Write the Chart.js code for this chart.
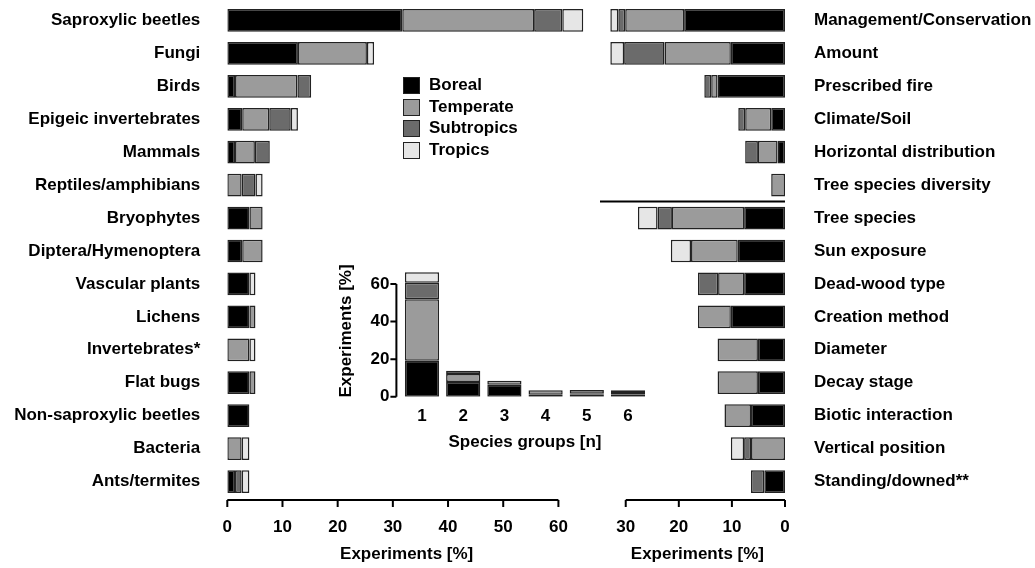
<!DOCTYPE html>
<html>
<head>
<meta charset="utf-8">
<script src="https://cdn.jsdelivr.net/npm/chart.js@4/dist/chart.umd.min.js"></script>
<style>
  html, body { margin:0; padding:0; background:#ffffff; }
  #wrap { position:relative; width:1035px; height:568px; overflow:hidden; background:#fff; }
  canvas { position:absolute; }
  .leg { position:absolute; left:403px; font:bold 17px "Liberation Sans", Arial, sans-serif; color:#000; height:18px; line-height:18px; }
  .leg span.box { position:absolute; left:0; top:0; width:15px; height:15px; border:1.5px solid #222; }
  .leg span.txt { position:absolute; left:26px; top:-1px; white-space:nowrap; }
</style>
</head>
<body>
<div id="wrap">
  <canvas id="left" width="595" height="568" style="left:0;top:0;"></canvas>
  <canvas id="right" width="440" height="568" style="left:595px;top:0;"></canvas>
  <canvas id="inset" width="330" height="200" style="left:330px;top:255px;"></canvas>
  <div id="legend"></div>
</div>
<script>
// ---------- Data ----------
const regions = ["Boreal", "Temperate", "Subtropics", "Tropics"];
const regionColors = ["#000000", "#9b9b9b", "#6b6b6b", "#e6e6e6"];

const leftCategories = ["Saproxylic beetles", "Fungi", "Birds", "Epigeic invertebrates", "Mammals",
  "Reptiles/amphibians", "Bryophytes", "Diptera/Hymenoptera", "Vascular plants", "Lichens",
  "Invertebrates*", "Flat bugs", "Non-saproxylic beetles", "Bacteria", "Ants/termites"];
const leftBoreal     = [31.7, 12.8, 1.4, 2.7, 1.4, 0,   4.0, 2.7, 4.0, 4.0, 0,   4.0, 4.0, 0,   1.4];
const leftTemperate  = [23.9, 12.5, 11.3, 4.9, 3.6, 2.6, 2.4, 3.7, 0,   1.1, 4.0, 1.1, 0,   2.6, 0];
const leftSubtropics = [5.1,  0,    2.5, 3.9, 2.7, 2.5, 0,   0,   0,   0,   0,   0,   0,   0,   1.2];
const leftTropics    = [3.8,  1.3,  0,   1.3, 0,   1.3, 0,   0,   1.1, 0,   1.1, 0,   0,   1.4, 1.4];

const rightCategories = ["Management/Conservation", "Amount", "Prescribed fire", "Climate/Soil",
  "Horizontal distribution", "Tree species diversity", "Tree species", "Sun exposure",
  "Dead-wood type", "Creation method", "Diameter", "Decay stage", "Biotic interaction",
  "Vertical position", "Standing/downed**"];
const rightBoreal     = [19.0, 10.2, 12.7, 2.6, 1.4, 0,   7.7,  8.9, 7.7, 10.2, 5.1, 5.1, 6.4, 0,   3.9];
const rightTemperate  = [11.1, 12.5, 1.2,  4.9, 3.7, 2.6, 13.6, 8.8, 4.9, 6.2,  7.6, 7.6, 5.0, 6.4, 0];
const rightSubtropics = [1.3,  7.6,  1.3,  1.3, 2.4, 0,   2.7,  0,   3.8, 0,    0,   0,   0,   1.3, 2.5];
const rightTropics    = [1.5,  2.6,  0,    0,   0,   0,   3.7,  3.8, 0,   0,    0,   0,   0,   2.5, 0];

const insetGroups     = ["1", "2", "3", "4", "5", "6"];
const insetBoreal     = [19.2, 7.8, 6.4, 1.0, 1.0, 1.0];
const insetTemperate  = [32.7, 4.3, 2.1, 2.5, 0.6, 1.5];
const insetSubtropics = [8.8,  1.7, 0,   0,   2.0, 1.0];
const insetTropics    = [5.5,  0,   0,   0,   0,   0];

const leftTicks  = [0, 10, 20, 30, 40, 50, 60];
const rightTicks = [0, 10, 20, 30];
const insetTicks = [0, 20, 40, 60];
const axisTitle = "Experiments [%]";
const insetXTitle = "Species groups [n]";

// ---------- Helpers ----------
const FONT = { family: '"Liberation Sans", Arial, sans-serif', size: 17, weight: 'bold' };
const nz = arr => arr.map(v => (v === 0 ? null : v));
function makeDatasets(series, pct) {
  return series.map((vals, i) => ({
    label: regions[i],
    data: nz(vals),
    backgroundColor: regionColors[i],
    borderColor: "#222222",
    borderWidth: 1.5,
    borderSkipped: false,
    categoryPercentage: 1.0,
    barPercentage: pct
  }));
}
function fixSize(prop, val) {
  return s => {
    s[prop] = val;
    s.paddingTop = 0; s.paddingBottom = 0; s.paddingLeft = 0; s.paddingRight = 0;
  };
}
const NOGRID = { display: false, drawTicks: false };

// draws an R-style axis line spanning only the tick range
function rAxisPlugin(axisId, tickVals, opts) {
  return {
    id: 'raxis_' + axisId,
    afterDraw(chart) {
      const s = chart.scales[axisId];
      const ctx = chart.ctx;
      const ca = chart.chartArea;
      ctx.save();
      ctx.strokeStyle = "#000";
      ctx.lineWidth = 2;
      ctx.beginPath();
      if (s.isHorizontal()) {
        const y = ca.bottom + opts.offset;
        const a = s.getPixelForValue(tickVals[0]);
        const b = s.getPixelForValue(tickVals[tickVals.length - 1]);
        ctx.moveTo(a, y); ctx.lineTo(b, y);
        tickVals.forEach(v => { const x = s.getPixelForValue(v); ctx.moveTo(x, y); ctx.lineTo(x, y + opts.len); });
      } else {
        const x = ca.left - opts.offset;
        const a = s.getPixelForValue(tickVals[0]);
        const b = s.getPixelForValue(tickVals[tickVals.length - 1]);
        ctx.moveTo(x, a); ctx.lineTo(x, b);
        tickVals.forEach(v => { const y = s.getPixelForValue(v); ctx.moveTo(x, y); ctx.lineTo(x - opts.len, y); });
      }
      ctx.stroke();
      ctx.restore();
    }
  };
}

const common = {
  responsive: false,
  animation: false,
  events: [],
  plugins: { legend: { display: false }, tooltip: { enabled: false } }
};

// ---------- Left chart ----------
new Chart(document.getElementById('left'), {
  type: 'bar',
  data: { labels: leftCategories, datasets: makeDatasets([leftBoreal, leftTemperate, leftSubtropics, leftTropics], 0.69) },
  options: Object.assign({}, common, {
    indexAxis: 'y',
    layout: { padding: { top: 4, right: 9, left: 0, bottom: 0 } },
    scales: {
      x: {
        stacked: true, min: 0, max: 65,
        grid: NOGRID, border: { display: false },
        afterBuildTicks: s => { s.ticks = leftTicks.map(v => ({ value: v })); },
        ticks: { padding: 19.5, color: '#000', font: FONT },
        title: { display: true, text: axisTitle, color: '#000', font: FONT, padding: { top: 0, bottom: 3 } },
        afterFit: fixSize('height', 70)
      },
      y: {
        stacked: true,
        grid: NOGRID, border: { display: false },
        ticks: { padding: 27, color: '#000', font: FONT, autoSkip: false },
        afterFit: fixSize('width', 227.3)
      }
    }
  }),
  plugins: [rAxisPlugin('x', leftTicks, { offset: 2, len: 7 })]
});

// ---------- Right chart ----------
const separatorPlugin = {
  id: 'separator',
  afterDraw(chart) {
    const y = chart.scales.y;
    const ca = chart.chartArea;
    const py = (y.getPixelForValue(5) + y.getPixelForValue(6)) / 2;
    const ctx = chart.ctx;
    ctx.save();
    ctx.strokeStyle = '#000';
    ctx.lineWidth = 2;
    ctx.beginPath();
    ctx.moveTo(5, py); ctx.lineTo(ca.right, py);
    ctx.stroke();
    ctx.restore();
  }
};
new Chart(document.getElementById('right'), {
  type: 'bar',
  data: { labels: rightCategories, datasets: makeDatasets([rightBoreal, rightTemperate, rightSubtropics, rightTropics], 0.69) },
  options: Object.assign({}, common, {
    indexAxis: 'y',
    layout: { padding: { top: 4, right: 0, left: 14.8, bottom: 0 } },
    scales: {
      x: {
        stacked: true, min: 0, max: 33, reverse: true,
        grid: NOGRID, border: { display: false },
        afterBuildTicks: s => { s.ticks = rightTicks.map(v => ({ value: v })); },
        ticks: { padding: 19.5, color: '#000', font: FONT },
        title: { display: true, text: axisTitle, color: '#000', font: FONT, padding: { top: 0, bottom: 3 } },
        afterFit: fixSize('height', 70)
      },
      y: {
        stacked: true, position: 'right',
        grid: NOGRID, border: { display: false },
        ticks: { padding: 29, color: '#000', font: FONT, autoSkip: false },
        afterFit: fixSize('width', 250)
      }
    }
  }),
  plugins: [rAxisPlugin('x', rightTicks, { offset: 2, len: 7 }), separatorPlugin]
});

// ---------- Inset chart ----------
new Chart(document.getElementById('inset'), {
  type: 'bar',
  data: { labels: insetGroups, datasets: makeDatasets([insetBoreal, insetTemperate, insetSubtropics, insetTropics], 0.83) },
  options: Object.assign({}, common, {
    layout: { padding: { top: 10.2, right: 11.4, left: 0, bottom: 0 } },
    scales: {
      x: {
        stacked: true,
        grid: NOGRID, border: { display: false },
        ticks: { padding: 9, color: '#000', font: FONT },
        title: { display: true, text: insetXTitle, color: '#000', font: FONT, padding: { top: 0, bottom: 2 } },
        afterFit: fixSize('height', 58.3)
      },
      y: {
        stacked: true, min: 0, max: 70,
        grid: NOGRID, border: { display: false },
        afterBuildTicks: s => { s.ticks = insetTicks.map(v => ({ value: v })); },
        ticks: { padding: 12, color: '#000', font: FONT },
        title: { display: true, text: axisTitle, color: '#000', font: FONT, padding: { top: 6, bottom: 0 } },
        afterFit: fixSize('width', 71.4)
      }
    }
  }),
  plugins: [rAxisPlugin('y', insetTicks, { offset: 5, len: 6 })]
});

// ---------- Legend (HTML) ----------
const legendTops = [77, 99, 120, 142];
const legendEl = document.getElementById('legend');
regions.forEach((r, i) => {
  const d = document.createElement('div');
  d.className = 'leg';
  d.style.top = legendTops[i] + 'px';
  d.innerHTML = '<span class="box" style="background:' + regionColors[i] + '"></span><span class="txt">' + r + '</span>';
  legendEl.appendChild(d);
});
</script>
</body>
</html>
